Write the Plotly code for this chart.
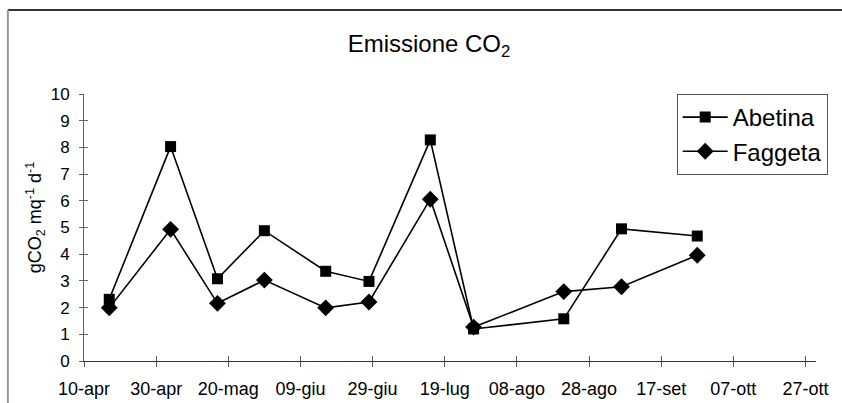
import plotly.graph_objects as go

dates = ["2001-04-17", "2001-05-04", "2001-05-17", "2001-05-30", "2001-06-16", "2001-06-28",
         "2001-07-15", "2001-07-27", "2001-08-21", "2001-09-06", "2001-09-27"]
abetina = [2.31, 8.03, 3.08, 4.88, 3.36, 2.98, 8.28, 1.2, 1.58, 4.95, 4.68]
faggeta = [1.99, 4.93, 2.16, 3.03, 1.99, 2.21, 6.06, 1.27, 2.6, 2.78, 3.96]

tick_vals = ["2001-04-10", "2001-04-30", "2001-05-20", "2001-06-09", "2001-06-29", "2001-07-19",
             "2001-08-08", "2001-08-28", "2001-09-17", "2001-10-07", "2001-10-27"]
tick_text = ["10-apr", "30-apr", "20-mag", "09-giu", "29-giu", "19-lug",
             "08-ago", "28-ago", "17-set", "07-ott", "27-ott"]
y_ticks = list(range(0, 11))

FONT = "Liberation Sans, Arial, sans-serif"
x_range = ["2001-04-10", "2001-10-29 22:00"]

fig = go.Figure()
fig.add_trace(go.Scatter(x=dates, y=abetina, name="Abetina", mode="lines+markers",
                         line=dict(color="black", width=1.6),
                         marker=dict(symbol="square", size=11, color="black")))
fig.add_trace(go.Scatter(x=dates, y=faggeta, name="Faggeta", mode="lines+markers",
                         line=dict(color="black", width=1.6),
                         marker=dict(symbol="diamond", size=13, color="black")))

fig.update_layout(
    width=842, height=403,
    margin=dict(l=84, r=26, t=94, b=42),
    paper_bgcolor="white", plot_bgcolor="white",
    font=dict(family=FONT, color="black"),
    title=dict(text="Emissione CO<sub>2</sub>", x=0.5095, y=0.891, xanchor="center", yanchor="middle",
               font=dict(size=24, family=FONT, color="black")),
    xaxis=dict(type="date", range=x_range, tickmode="array", tickvals=tick_vals, ticktext=tick_text,
               showgrid=False, zeroline=False, showline=True, linecolor="#333", linewidth=1,
               ticks="outside", ticklen=5, tickcolor="#555", tickwidth=1, automargin=False,
               tickfont=dict(size=18, family=FONT, color="black"), ticklabelstandoff=6),
    yaxis=dict(range=[0, 10], tickmode="array", tickvals=y_ticks, automargin=False,
               showgrid=False, zeroline=False, showline=True, linecolor="#666", linewidth=1,
               ticks="outside", ticklen=4, tickcolor="#666", tickwidth=1,
               tickfont=dict(size=17, family=FONT, color="black"), ticklabelstandoff=6),
    xaxis2=dict(type="date", range=x_range, overlaying="x", anchor="y", side="bottom",
                tickmode="array", tickvals=tick_vals, showticklabels=False, showgrid=False,
                automargin=False,
                zeroline=False, showline=False, ticks="inside", ticklen=5, tickcolor="#555"),
    yaxis2=dict(range=[0, 10], overlaying="y", anchor="x", side="left", tickmode="array",
                tickvals=y_ticks, showticklabels=False, showgrid=False, zeroline=False,
                automargin=False,
                showline=False, ticks="inside", ticklen=4, tickcolor="#666"),
    showlegend=True,
    legend=dict(x=0.8097, y=1.0, xanchor="left", yanchor="top", bgcolor="white",
                bordercolor="#555", borderwidth=1, font=dict(size=24, family=FONT, color="black"),
                itemwidth=45, tracegroupgap=0),
)

# invisible trace to activate secondary axes
fig.add_trace(go.Scatter(x=[tick_vals[0]], y=[0], xaxis="x2", yaxis="y2", mode="markers",
                         marker=dict(opacity=0), showlegend=False, hoverinfo="skip"))

fig.add_annotation(text="gCO<sub>2</sub> mq<sup>-1</sup> d<sup>-1</sup>", xref="paper", yref="paper",
                   x=-0.0668, y=0.535, textangle=-90, showarrow=False,
                   font=dict(size=18, family=FONT, color="black"), xanchor="center", yanchor="middle")

# chart area frame (top and left edges)
fig.add_shape(type="line", xref="paper", yref="paper", x0=-0.104, x1=1.05, y0=1.3146, y1=1.3146,
              line=dict(color="#333", width=2))
fig.add_shape(type="line", xref="paper", yref="paper", x0=-0.104, x1=-0.104, y0=1.3146, y1=-0.2,
              line=dict(color="#999", width=2))

fig.write_html("out.html", config={"displayModeBar": False},
               post_script="document.body.style.margin='0px';document.body.style.overflow='hidden';")
